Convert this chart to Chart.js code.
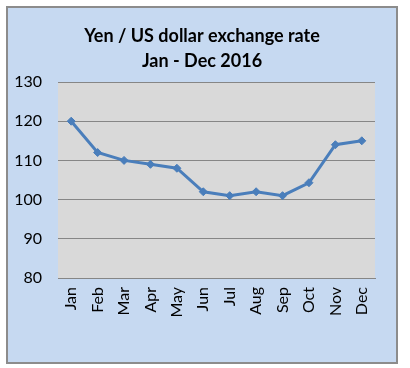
<!DOCTYPE html>
<html>
<head>
<meta charset="utf-8">
<script src="https://cdn.jsdelivr.net/npm/chart.js@4"></script>
<style>
  html, body { margin: 0; padding: 0; background: #ffffff; }
  #wrap { width: 410px; height: 368px; }
</style>
</head>
<body>
<div id="wrap"><canvas id="fxChart" width="410" height="368"></canvas></div>
<script>
const meses = ["Jan", "Feb", "Mar", "Apr", "May", "Jun", "Jul", "Aug", "Sep", "Oct", "Nov", "Dec"];
const yenPorDolar = [120, 112, 110, 109, 108, 102, 101, 102, 101, 104.3, 114, 115];
const tituloLineas = ["Yen / US dollar exchange rate", "Jan - Dec 2016"];
const ejeMin = 80;
const ejeMax = 130;
const ejePaso = 10;

// fondo azul con borde + zona gris del grafico
const fondoPlugin = {
  id: "fondo",
  beforeDraw(chart) {
    const ctx = chart.ctx;
    const a = chart.chartArea;
    ctx.save();
    ctx.fillStyle = "#ffffff";
    ctx.fillRect(0, 0, chart.width, chart.height);
    ctx.fillStyle = "#c6d9f1";
    ctx.fillRect(7, 7, 390, 356);
    ctx.strokeStyle = "#8c8c8c";
    ctx.lineWidth = 2;
    ctx.strokeRect(7, 7, 390, 356);
    ctx.fillStyle = "#d9d9d9";
    ctx.fillRect(a.left, a.top, a.right - a.left, a.bottom - a.top);
    ctx.restore();
  }
};

// titulo centrado sobre el recuadro azul (no sobre el area del grafico)
const tituloPlugin = {
  id: "titulo",
  afterDraw(chart) {
    const ctx = chart.ctx;
    ctx.save();
    ctx.fillStyle = "#000000";
    ctx.font = "bold 18px Lato";
    ctx.textAlign = "center";
    ctx.textBaseline = "middle";
    tituloLineas.forEach((linea, i) => {
      ctx.fillText(linea, 202, 36 + i * 25);
    });
    ctx.restore();
  }
};

const ctx = document.getElementById("fxChart").getContext("2d");
const grafico = new Chart(ctx, {
  type: "line",
  data: {
    labels: meses,
    datasets: [
      {
        label: "Yen / US dollar",
        data: yenPorDolar,
        borderColor: "#4a7ebb",
        backgroundColor: "#4a7ebb",
        borderWidth: 3,
        pointStyle: "rectRot",
        pointRadius: 4,
        pointBorderWidth: 1,
        tension: 0,
        fill: false,
      },
    ],
  },
  options: {
    responsive: false,
    animation: false,
    layout: { padding: { left: 0, right: 35, top: 82, bottom: 0 } },
    plugins: {
      legend: { display: false },
      tooltip: { enabled: false },
      title: { display: false },
    },
    scales: {
      x: {
        type: "category",
        offset: true,
        grid: { display: false, drawTicks: false },
        border: { display: true, color: "#868686", width: 1 },
        ticks: {
          minRotation: 90,
          maxRotation: 90,
          padding: 9,
          color: "#000000",
          font: { family: "Lato", size: 16 },
        },
        afterFit(scale) { scale.height = 90; },
      },
      y: {
        min: ejeMin,
        max: ejeMax,
        grid: { color: "#868686", lineWidth: 1, drawTicks: false },
        border: { display: false },
        ticks: {
          stepSize: ejePaso,
          padding: 16,
          color: "#000000",
          font: { family: "Lato", size: 16 },
        },
        afterFit(scale) { scale.width = 58; },
      },
    },
  },
  plugins: [fondoPlugin, tituloPlugin],
});
</script>
</body>
</html>
